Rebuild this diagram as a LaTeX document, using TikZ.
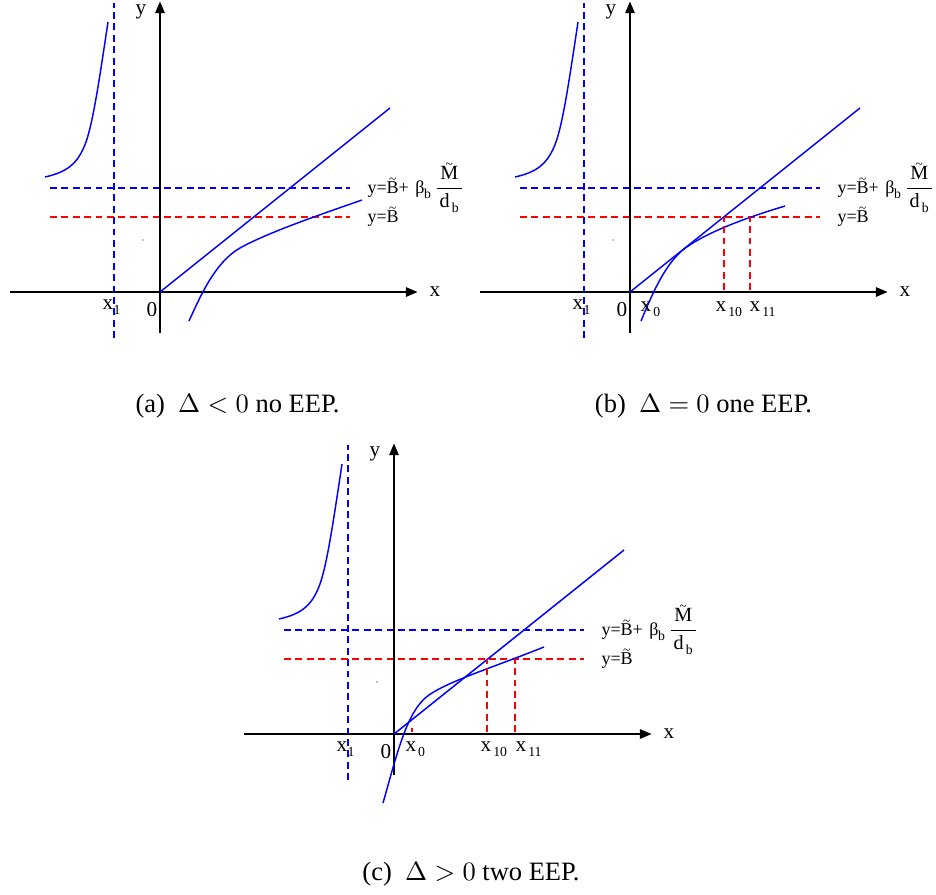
\documentclass[tikz,border=0pt]{standalone}
\usepackage{amsmath}
\usepackage[no-math]{fontspec}
\setmainfont{Liberation Serif}
\usetikzlibrary{arrows.meta}

% small tilde set over a letter
\newcommand{\tildeof}[1]{\leavevmode\setbox0=\hbox{#1}\rlap{\hbox to\wd0{\hss\raisebox{0.55em}{\fontsize{5}{5}\selectfont\textasciitilde}\hss}}\box0}
% lowered index, as in x 10
\newcommand{\lowsub}[1]{\raisebox{-1.9pt}{\fontsize{5.2}{6}\selectfont\hspace{0.8pt}#1}}

\tikzset{
  axis/.style={line width=1.1pt, -{Triangle[length=4.6pt,width=3.4pt]}},
  curve/.style={blue, line width=0.55pt},
  blueguide/.style={blue, line width=0.5pt, dash pattern=on 2.6pt off 1.7pt},
  redguide/.style={red, line width=0.5pt, dash pattern=on 2.6pt off 1.7pt},
  lab/.style={inner sep=0pt, font=\fontsize{8}{9}\selectfont},
  eqlab/.style={inner sep=0pt, anchor=west, font=\fontsize{6.8}{7}\selectfont},
  caption/.style={inner sep=0pt, anchor=base, font=\fontsize{10}{12}\selectfont}
}

\begin{document}
\begin{tikzpicture}[x=3.774pt, y=3.774pt]
  \useasboundingbox (0,0) rectangle (93.6,-89.4);

  % common frame of the three panels
  \foreach \p/\sx/\sy in {a/16/-29.2, b/63/-29.2, c/39.4/-73.4} {
    \begin{scope}[shift={(\sx,\sy)}]
      \draw[axis] (-15,0) -- (25.8,0);
      \draw[axis] (0,-4.1) -- (0,29.1);
      \node[lab] (x\p) at (27.5,0) {x};
      \node[lab] (y\p) at (-1.9,28.0) {y};
      \node[lab] (o\p) at (-0.8,-1.8) {0};
      \node[lab, anchor=base west] (xone\p) at (-5.8,-1.75) {x\kern-0.6pt\lowsub{1}};

      \draw[blueguide] (-4.6,-4.6) -- (-4.6,28.9);
      \draw[blueguide] (-11,10.4) -- (19,10.4);
      \draw[redguide] (-11,7.5) -- (19,7.5);
      \node[eqlab] (top\p) at (20.7,10.4)
        {y=\tildeof{B}+\hspace{2.5pt}β\kern-1pt\lowsub{b}\hspace{1pt}$\dfrac{\text{\fontsize{7.6}{8}\selectfont\hspace{1.3pt}\tildeof{M}\hspace{1.3pt}}}{\text{\fontsize{7.6}{8}\selectfont d\lowsub{b}}}$};
      \node[eqlab] (bot\p) at (20.7,7.5) {y=\tildeof{B}};

      \draw[curve] (-11.5,11.5) .. controls (-9.3,12.0) and (-8.2,12.8) .. (-7.4,15.0)
        .. controls (-6.7,17.0) and (-6.1,21) .. (-5.2,27.0);
      \draw[curve] (0,0) -- (23.0,18.4);
      \fill (-1.7,5.2) circle (0.2pt);
    \end{scope}
  }

  % (a) no crossing
  \begin{scope}[shift={(16,-29.2)}]
    \draw[curve] (2.9,-2.9) .. controls (4.0,-0.5) and (5.5,3.0) .. (8.0,4.4)
      .. controls (10.5,5.8) and (15,7.4) .. (20.2,9.2);
  \end{scope}

  % (b) tangent
  \begin{scope}[shift={(63,-29.2)}]
    \draw[curve] (1.1,-2.9) .. controls (2.3,0) and (3.6,3.0) .. (5.6,4.45)
      .. controls (7.8,6.0) and (11.5,7.4) .. (15.5,8.6);
    \draw[redguide] (9.4,0.2) -- (9.4,7.5);
    \draw[redguide] (12.0,0.2) -- (12.0,7.5);
    \node[lab, anchor=base west] (xzb) at (1.0,-1.95) {x\lowsub{0}};
    \node[lab, anchor=base west] (xtb) at (8.5,-1.95) {x\lowsub{10}};
    \node[lab, anchor=base west] (xeb) at (11.9,-1.95) {x\lowsub{11}};
  \end{scope}

  % (c) two crossings
  \begin{scope}[shift={(39.4,-73.4)}]
    \draw[curve] (-1.1,-6.9) .. controls (0.3,-2.0) and (1.3,2.4) .. (3.5,3.9)
      .. controls (5.5,5.3) and (10,6.7) .. (15.0,8.7);
    \draw[redguide] (1.8,0.2) -- (1.8,0.6);
    \draw[redguide] (9.3,0.2) -- (9.3,7.5);
    \draw[redguide] (12.1,0.2) -- (12.1,7.5);
    \node[lab, anchor=base west] (xzc) at (1.1,-1.75) {x\lowsub{0}};
    \node[lab, anchor=base west] (xtc) at (8.6,-1.75) {x\lowsub{10}};
    \node[lab, anchor=base west] (xec) at (12.1,-1.75) {x\lowsub{11}};
  \end{scope}

  \node[caption] (capa) at (23.75,-41.2) {(a)\hspace{5pt}$\Delta<0$ no EEP.};
  \node[caption] (capb) at (70.35,-41.2) {(b)\hspace{5pt}$\Delta=0$ one EEP.};
  \node[caption] (capc) at (47.1,-88.0) {(c)\hspace{5pt}$\Delta>0$ two EEP.};
\end{tikzpicture}
\end{document}
